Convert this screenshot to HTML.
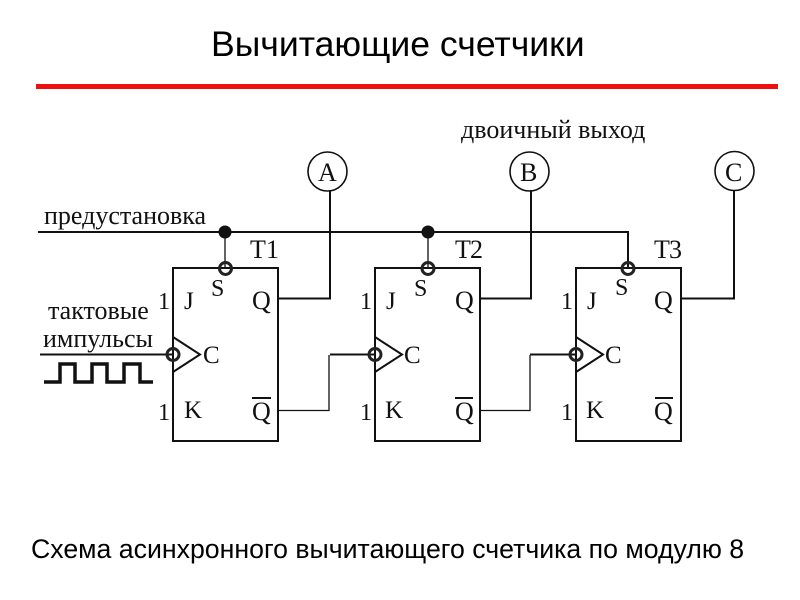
<!DOCTYPE html>
<html><head><meta charset="utf-8"><style>
html,body{margin:0;padding:0;background:#fff}
svg{display:block}
.s{font-family:"Liberation Serif",serif;font-size:26px;fill:#111}
.m{font-family:"Liberation Serif",serif;font-size:25px;fill:#111}
.d{font-family:"Liberation Serif",serif;font-size:24px;fill:#111}
.b{font-family:"Liberation Sans",sans-serif;fill:#000}
</style></head><body>
<svg width="800" height="600" viewBox="0 0 800 600" xmlns="http://www.w3.org/2000/svg">
<rect width="800" height="600" fill="#fff"/>
<text class="b" x="211" y="56" font-size="35.600">Вычитающие счетчики</text>
<rect x="36" y="84" width="742" height="5" fill="#f00f0f"/>
<text class="s" x="461" y="138">двоичный выход</text>
<text class="s" x="44" y="224">предустановка</text>
<text class="s" x="48" y="319">тактовые</text>
<text class="s" x="43" y="347">импульсы</text>
<text class="b" x="31" y="558" font-size="26.700">Схема асинхронного вычитающего счетчика по модулю 8</text>

<g fill="none" stroke="#111" stroke-width="2">
<rect x="173" y="268" width="105" height="173"/>
<rect x="375" y="268" width="105" height="173"/>
<rect x="576" y="268" width="105" height="173"/>
<path d="M38 232H628V268"/>
<path d="M278 298.500H330V190"/>
<path d="M480 298.500H531V190"/>
<path d="M681 298.500H734V190"/>
<path d="M40 354.500H173"/>
<path d="M173 337L200 354.500L173 372"/>
<path d="M375 337L402 354.500L375 372"/>
<path d="M576 337L603 354.500L576 372"/>
<path d="M330 354.500H375"/>
<path d="M530 354.500H576"/>
<circle cx="327.500" cy="171.500" r="19.500" stroke-width="1.600"/>
<circle cx="529.500" cy="171.500" r="19.500" stroke-width="1.600"/>
<circle cx="734.500" cy="171" r="19.500" stroke-width="1.600"/>
</g>
<g fill="none" stroke="#111" stroke-width="1.300">
<path d="M225 232V268"/>
<path d="M428 232V268"/>
<path d="M278 410.500H329V355"/>
<path d="M480 410.500H530V355"/>
</g>
<path d="M44 382H60V364H75V382H92V364H107V382H124V364H140V382H153" fill="none" stroke="#111" stroke-width="3.500"/>
<circle cx="225" cy="232" r="6.500" fill="#111"/>
<circle cx="428" cy="232" r="6.500" fill="#111"/>
<g fill="none" stroke="#222" stroke-width="3">
<circle cx="225.500" cy="268.500" r="6"/>
<circle cx="428" cy="268.500" r="6"/>
<circle cx="628" cy="268.500" r="6"/>
<circle cx="173" cy="354.500" r="6"/>
<circle cx="375" cy="354.500" r="6"/>
<circle cx="576" cy="354.500" r="6"/>
</g>
<g fill="none" stroke="#111" stroke-width="2">
<path d="M252 398H271M455 398H473M655 398H673"/>
</g>
<text class="s" x="318" y="181">A</text>
<text class="s" x="520" y="181">B</text>
<text class="s" x="725" y="181">C</text>
<text class="s" x="250" y="258">T</text><text class="s" x="266" y="258">1</text>
<text class="s" x="455" y="258">T</text><text class="s" x="470" y="258">2</text>
<text class="s" x="654" y="258">T</text><text class="s" x="669" y="258">3</text>
<text class="d" x="211" y="296">S</text><text class="d" x="414" y="296">S</text><text class="d" x="615" y="295">S</text>
<text class="d" x="158" y="309">1</text><text class="d" x="360" y="309">1</text><text class="d" x="561" y="309">1</text>
<text class="d" x="158" y="420">1</text><text class="d" x="360" y="420">1</text><text class="d" x="561" y="420">1</text>
<text class="m" x="184" y="309">J</text><text class="m" x="386" y="309">J</text><text class="m" x="587" y="309">J</text>
<text class="m" x="184" y="418">K</text><text class="m" x="385" y="418">K</text><text class="m" x="586" y="418">K</text>
<text class="m" x="203" y="363">C</text><text class="m" x="404" y="363">C</text><text class="m" x="605" y="363">C</text>
<text class="s" x="252" y="309">Q</text><text class="s" x="455" y="309">Q</text><text class="s" x="654" y="309">Q</text>
<text class="s" x="252" y="420">Q</text><text class="s" x="455" y="420">Q</text><text class="s" x="654" y="420">Q</text>
</svg>
</body></html>
